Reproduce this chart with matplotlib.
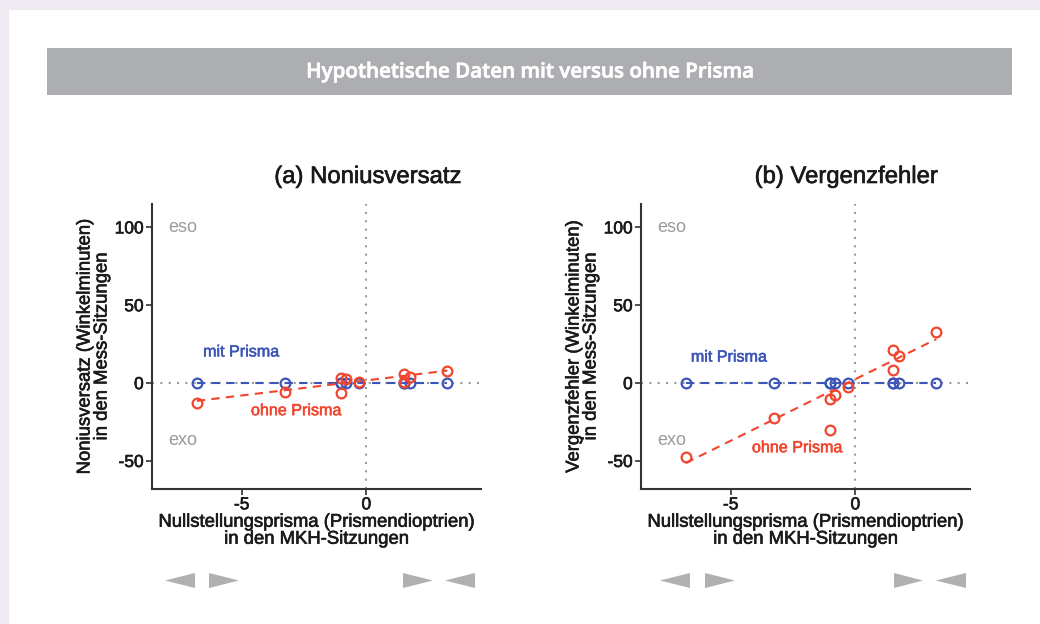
import numpy as np
import matplotlib
matplotlib.use("Agg")
import matplotlib.pyplot as plt
import matplotlib.patheffects as pe
from matplotlib.patches import Rectangle, Polygon

# Nullstellungsprisma je Proband (Prismendioptrien)
prism = [-6.8, -3.25, -1.0, -1.0, -0.8, -0.3, 1.5, 1.5, 1.75, 3.25]

# (a) Noniusversatz in Winkelminuten
nonius_mit = [0, 0, 0, 0, 0, 0, 0, 0, 0, 0]
nonius_ohne = [-12.5, -5.5, 3, -6.3, 2.5, 1, 6, 1, 4, 8]

# (b) Vergenzfehler in Winkelminuten
vergenz_mit = [0, 0, 0, 0, 0, 0, 0, 0, 0, 0]
vergenz_ohne = [-47.4, -22.7, -10.2, -30, -7.6, -2.7, 21.4, 8.7, 17.7, 32.8]

titles = ["(a) Noniusversatz", "(b) Vergenzfehler"]
ylabels = ["Noniusversatz (Winkelminuten)\nin den Mess-Sitzungen",
           "Vergenzfehler (Winkelminuten)\nin den Mess-Sitzungen"]
xlabel = "Nullstellungsprisma (Prismendioptrien)\nin den MKH-Sitzungen"
header = "Hypothetische Daten mit versus ohne Prisma"

BLUE = "#3d55b8"
RED = "#f2452e"
GREY = "#9a9a9a"
INK = "#1a1a1a"
W, H = 1040, 624

plt.rcParams["font.family"] = ["Liberation Sans", "DejaVu Sans"]
plt.rcParams["axes.unicode_minus"] = False

# etwas kraeftigere Schrift wie im Original
heavy = [pe.withStroke(linewidth=0.45, foreground=INK)]


def robust_line(x, y):
    # Geradenanpassung, Ausreisser (> 2 SD Residuum) werden verworfen
    x = np.asarray(x, float)
    y = np.asarray(y, float)
    k, d = np.polyfit(x, y, 1)
    res = y - (k * x + d)
    keep = np.abs(res) <= 2 * res.std() + 1e-9
    k, d = np.polyfit(x[keep], y[keep], 1)
    xs = np.array([x.min(), x.max()])
    return xs, k * xs + d


def fx(px):
    return px / W


def fy(py):
    return 1 - py / H


fig = plt.figure(figsize=(10.4, 6.24), dpi=100)
fig.patch.set_facecolor("#efeaf1")
fig.patches.append(Rectangle((fx(9), 0), 1, fy(10), transform=fig.transFigure,
                             facecolor="white", edgecolor="none", zorder=-2))
fig.patches.append(Rectangle((fx(47), fy(95)), fx(965), 47 / H, transform=fig.transFigure,
                             facecolor="#acaeb1", edgecolor="none", zorder=-1))
fig.text(fx(529.5), fy(72), header, color="white", fontsize=14.8,
         family=["Open Sans", "DejaVu Sans"], fontweight="semibold",
         ha="center", va="center",
         path_effects=[pe.withStroke(linewidth=0.5, foreground="white")])

panels = [
    (fx(152), nonius_mit, nonius_ohne, 0.656, [(165, 195), (239, 209), (433, 403), (445, 475)],
     (-6.55, 20), (-4.63, -17.7)),
    (fx(641), vergenz_mit, vergenz_ohne, 0.624, [(660, 690), (735, 705), (923, 894), (936, 966)],
     (-6.6, 16.7), (-4.15, -41.5)),
]

for i, (left, y_mit, y_ohne, tx, tris, mit_pos, ohne_pos) in enumerate(panels):
    ax = fig.add_axes([left, fy(489), 329 / W, 285 / H])
    ax.set_facecolor("none")
    ax.set_xlim(-8.6, 4.6)
    ax.set_ylim(-68, 115)

    ax.axhline(0, color=GREY, ls=(0, (1, 3)), lw=1.5, zorder=1)
    ax.axvline(0, color=GREY, ls=(0, (1, 3)), lw=1.5, zorder=1)

    xs, ys = robust_line(prism, y_mit)
    ax.plot(xs, ys, color=BLUE, ls=(0, (4, 3)), lw=1.5, zorder=2)
    xs, ys = robust_line(prism, y_ohne)
    ax.plot(xs, ys, color=RED, ls=(0, (4, 3)), lw=1.5, zorder=2)

    ax.plot(prism, y_mit, "o", mfc="none", mec=BLUE, mew=1.6, ms=7, zorder=3)
    ax.plot(prism, y_ohne, "o", mfc="none", mec=RED, mew=1.6, ms=7, zorder=4)

    ax.text(-7.95, 100, "eso", color=GREY, fontsize=13, va="center")
    ax.text(-7.95, -37, "exo", color=GREY, fontsize=13, va="center")
    ax.text(mit_pos[0], mit_pos[1], "mit Prisma", color=BLUE, fontsize=11.6, va="center",
            path_effects=[pe.withStroke(linewidth=0.4, foreground=BLUE)])
    ax.text(ohne_pos[0], ohne_pos[1], "ohne Prisma", color=RED, fontsize=11.6, va="center",
            path_effects=[pe.withStroke(linewidth=0.4, foreground=RED)])

    ax.set_xticks([-5, 0])
    ax.set_yticks([-50, 0, 50, 100])
    ax.tick_params(length=4, width=1.2, color="#333333", labelsize=12.5,
                   labelcolor=INK, pad=2)
    for lab in ax.get_xticklabels() + ax.get_yticklabels():
        lab.set_path_effects(heavy)
    for s in ["top", "right"]:
        ax.spines[s].set_visible(False)
    for s in ["left", "bottom"]:
        ax.spines[s].set_linewidth(1.5)
        ax.spines[s].set_color("#333333")

    ax.set_xlabel(xlabel, fontsize=13.3, color=INK, labelpad=1, linespacing=1.0,
                  path_effects=heavy)
    ax.set_ylabel(ylabels[i], fontsize=13.3, color=INK, labelpad=3, linespacing=1.0,
                  path_effects=heavy)
    ax.text(tx, 1 + 27 / 285, titles[i], transform=ax.transAxes, fontsize=17.2,
            color=INK, ha="center", va="center", path_effects=heavy)

    # Prismen-Symbole unter der Achse
    for tip, base in tris:
        poly = Polygon([(fx(tip), fy(580.5)), (fx(base), fy(573)), (fx(base), fy(588))],
                       closed=True, transform=fig.transFigure,
                       facecolor="#aeb0b2", edgecolor="none")
        fig.patches.append(poly)

fig.savefig("out.png", dpi=100)
